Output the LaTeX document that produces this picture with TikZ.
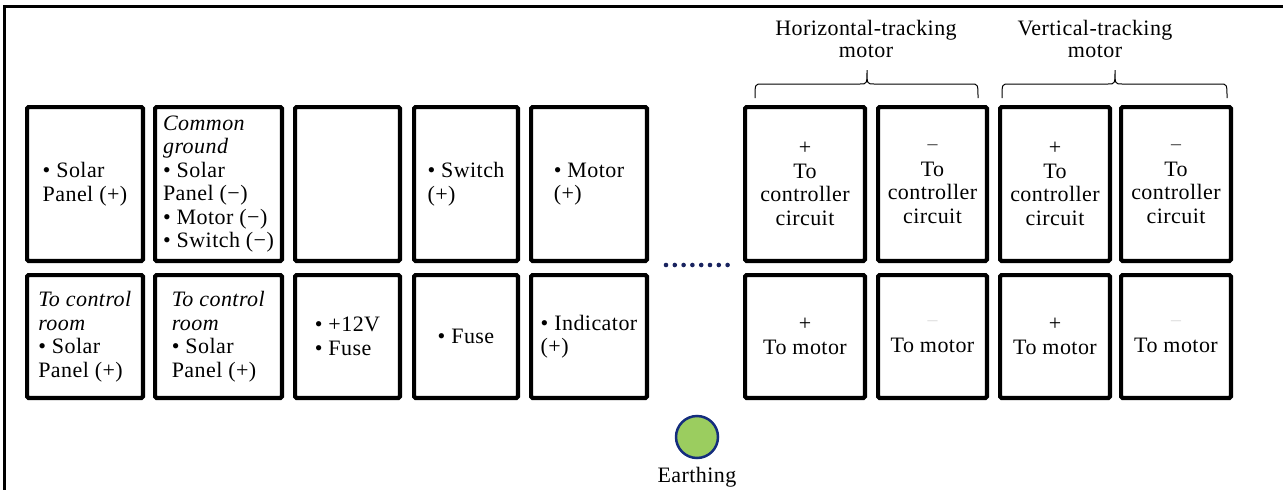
\documentclass[tikz,border=0pt]{standalone}
\usepackage{fontspec}
\setmainfont{Liberation Serif}[LetterSpace=2]
\definecolor{dotblue}{RGB}{25,35,95}
\definecolor{earthgreen}{RGB}{155,205,95}
\definecolor{earthblue}{RGB}{20,45,125}
\newcommand{\termbox}[6][]% options, name, center, width, height, text
{\node[cell, minimum width=#4, minimum height=#5, #1] (#2) at (#3) {#6};
}
\newcommand{\llave}[3]% left x, tip x, right x
{(#1,98) .. controls (#1,84) .. (#1+7,84) -- (#2-7,84) .. controls (#2,84) .. (#2,70)
 .. controls (#2,84) .. (#2+7,84) -- (#3-7,84) .. controls (#3,84) .. (#3,98)
}
\newcommand{\bul}{\textbullet\ }

\begin{document}
\begin{tikzpicture}[x=1pt, y=-1pt,
	cell/.style={draw, line width=4.2pt, rounded corners=1.5pt, inner sep=0pt, align=left, font=\fontsize{22}{23.5}\selectfont},
	lbl/.style={inner sep=0pt, align=center, font=\fontsize{22}{22}\selectfont}]
		\useasboundingbox (0,0) rectangle (1283,490);
		\draw[line width=3pt](1283,6.5) -- (4,6.5) -- (4,490);
		%fila de arriba
		\termbox{t1}{85,184}{115.8}{153.8}{\bul Solar\\Panel (+)}
		\termbox{t2}{218.5,184}{126.8}{153.8}{\textit{Common}\\\textit{ground}\\\bul Solar\\Panel (−)\\\bul Motor (−)\\\bul Switch (−)}
		\termbox{t3}{347.5,184}{104.8}{153.8}{}
		\termbox{t4}{466,184}{103.8}{153.8}{\bul Switch\\(+)}
		\termbox{t5}{589,184}{115.8}{153.8}{\bul Motor\\(+)}
		\termbox[align=center]{t6}{805,184}{119.8}{153.8}{+\\To\\controller\\circuit}
		\termbox[align=center]{t7}{932.5,184}{108.8}{153.8}{\textcolor{black!70}{−}\\To\\controller\\circuit}
		\termbox[align=center]{t8}{1055,184}{109.8}{153.8}{+\\To\\controller\\circuit}
		\termbox[align=center]{t9}{1176,184}{109.8}{153.8}{\textcolor{black!70}{−}\\To\\controller\\circuit}
		%fila de abajo
		\termbox{b1}{85,336.5}{115.8}{122.8}{\textit{To control}\\\textit{room}\\\bul Solar\\Panel (+)}
		\termbox{b2}{218.5,336.5}{126.8}{122.8}{\textit{To control}\\\textit{room}\\\bul Solar\\Panel (+)}
		\termbox{b3}{347.5,336.5}{104.8}{122.8}{\bul +12V\\\bul Fuse}
		\termbox{b4}{466,336.5}{103.8}{122.8}{\bul Fuse}
		\termbox{b5}{589,336.5}{115.8}{122.8}{\bul Indicator\\(+)}
		\termbox[align=center]{b6}{805,336.5}{119.8}{122.8}{+\\To motor}
		\termbox[align=center]{b7}{932.5,336.5}{108.8}{122.8}{\textcolor{black!12}{−}\\To motor}
		\termbox[align=center]{b8}{1055,336.5}{109.8}{122.8}{+\\To motor}
		\termbox[align=center]{b9}{1176,336.5}{109.8}{122.8}{\textcolor{black!12}{−}\\To motor}
		%puntos entre los bloques
		\foreach \i in {0,...,7}
			\fill[dotblue] (666+\i*8.8,265) circle (2.3);
		%llaves de los motores
		\draw[line width=1pt]\llave{755}{867}{978};
		\draw[line width=1pt]\llave{1002}{1115}{1227};
		\node[lbl] (hmotor) at (866,39) {Horizontal-tracking\\motor};
		\node[lbl] (vmotor) at (1095,39) {Vertical-tracking\\motor};
		%tierra
		\node[circle, draw=earthblue, fill=earthgreen, line width=2.5pt, minimum size=42pt, inner sep=0pt] (earth) at (697,437) {};
		\node[lbl] (earthing) at (697,477) {Earthing};
	\end{tikzpicture}
\end{document}
